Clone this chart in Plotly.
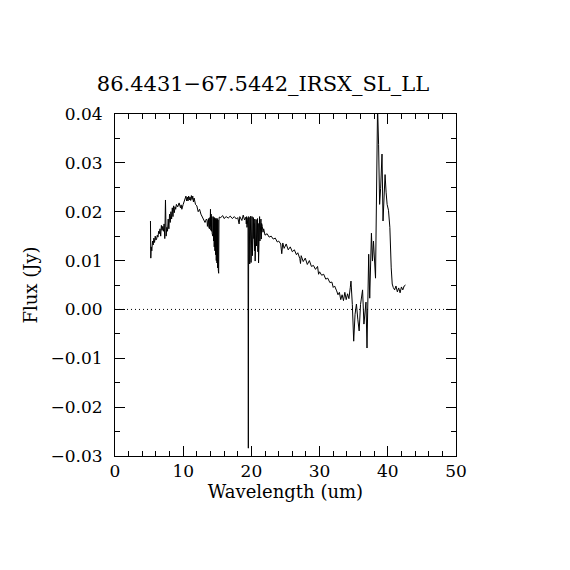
import plotly.graph_objects as go

# spectrum (wavelength in um, flux in Jy)
wavelength = [
    5.20, 5.25, 5.30, 5.40, 5.50, 5.60, 5.70, 5.80, 5.90, 6.00,
    6.10, 6.20, 6.30, 6.40, 6.50, 6.60, 6.70, 6.80, 6.90, 7.00,
    7.10, 7.20, 7.30, 7.40, 7.50, 7.60, 7.70, 7.80, 7.90, 8.00,
    8.10, 8.20, 8.30, 8.40, 8.50, 8.60, 8.70, 8.80, 8.90, 9.00,
    9.20, 9.40, 9.60, 9.70, 9.80, 10.00, 10.20, 10.40, 10.50, 10.60,
    10.70, 10.80, 10.90, 11.00, 11.10, 11.20, 11.30, 11.40, 11.50, 11.60,
    11.80, 12.00, 12.20, 12.40, 12.60, 12.80, 13.00, 13.20, 13.40,
    13.50, 13.55, 13.60, 13.65, 13.70, 13.75, 13.80, 13.85, 13.90, 13.95,
    14.00, 14.05, 14.10, 14.15, 14.20, 14.25, 14.30, 14.35, 14.40, 14.45,
    14.50, 14.55, 14.60, 14.65, 14.70, 14.75, 14.80, 14.85, 14.90, 14.95,
    15.00, 15.05, 15.10, 15.15, 15.20, 15.25, 15.30,
    15.50, 15.80, 16.00, 16.30, 16.60, 16.90, 17.20, 17.50, 17.80, 18.00,
    18.20, 18.30, 18.60, 18.80, 19.00,
    19.20, 19.25, 19.30, 19.35, 19.40, 19.45, 19.50, 19.55, 19.60, 19.65,
    19.70, 19.75, 19.80, 19.85, 19.90, 19.95, 20.00, 20.05, 20.10, 20.15,
    20.20, 20.25, 20.30, 20.35, 20.40, 20.45, 20.50, 20.55, 20.60, 20.65,
    20.70, 20.75, 20.80, 20.85, 20.90, 20.95, 21.00, 21.05, 21.10, 21.15,
    21.20, 21.25, 21.30, 21.35, 21.40, 21.45, 21.50, 21.55, 21.60, 21.70,
    21.80,
    22.00, 22.30, 22.60, 22.90, 23.20, 23.50,
    23.80, 24.00, 24.30, 24.45, 24.60, 24.80, 25.10, 25.40, 25.70, 26.00, 26.30,
    26.60, 26.80, 27.10, 27.20, 27.30, 27.60, 27.90, 28.20, 28.50, 28.80, 29.10,
    29.40, 29.70, 29.85, 30.00, 30.30, 30.60, 30.90, 31.20, 31.50, 31.80, 32.00,
    32.20, 32.50, 32.70, 32.90, 33.10, 33.30, 33.50, 33.70, 33.90, 34.10,
    34.30, 34.50, 34.60, 34.80, 35.00, 35.20, 35.40, 35.60, 35.80, 36.00,
    36.30, 36.50, 36.80, 36.95, 37.05, 37.20, 37.35, 37.60, 37.75, 37.90,
    38.20, 38.35, 38.50, 38.65, 38.80, 38.95, 39.05, 39.15, 39.30, 39.45,
    39.60, 39.75, 39.90, 40.10, 40.30, 40.50, 40.65, 40.80, 41.00, 41.20,
    41.40, 41.60, 41.80, 42.00, 42.20, 42.40, 42.60,
]
flux = [
    0.0181, 0.0105, 0.0128, 0.0120, 0.0140, 0.0132, 0.0146, 0.0137, 0.0150, 0.0142,
    0.0144, 0.0152, 0.0148, 0.0160, 0.0155, 0.0165, 0.0150, 0.0172, 0.0162, 0.0170,
    0.0160, 0.0175, 0.0145, 0.0224, 0.0150, 0.0168, 0.0160, 0.0185, 0.0165, 0.0195,
    0.0178, 0.0200, 0.0185, 0.0208, 0.0190, 0.0212, 0.0198, 0.0210, 0.0205, 0.0215,
    0.0210, 0.0218, 0.0208, 0.0214, 0.0205, 0.0215, 0.0222, 0.0232, 0.0222, 0.0230,
    0.0222, 0.0232, 0.0224, 0.0230, 0.0223, 0.0233, 0.0225, 0.0232, 0.0220, 0.0228,
    0.0215, 0.0212, 0.0200, 0.0205, 0.0195, 0.0190, 0.0185, 0.0178, 0.0185,
    0.0182, 0.0170, 0.0185, 0.0172, 0.0186, 0.0168, 0.0184, 0.0165, 0.0188, 0.0170,
    0.0205, 0.0162, 0.0195, 0.0160, 0.0190, 0.0155, 0.0188, 0.0150, 0.0190, 0.0140,
    0.0186, 0.0128, 0.0188, 0.0120, 0.0185, 0.0112, 0.0187, 0.0100, 0.0184, 0.0095,
    0.0186, 0.0085, 0.0183, 0.0080, 0.0074, 0.0185, 0.0189,
    0.0188, 0.0192, 0.0186, 0.0190, 0.0187, 0.0191, 0.0186, 0.0190, 0.0185, 0.0188,
    0.0175, 0.0190, 0.0182, 0.0193, 0.0183,
    0.0189, 0.0175, 0.0190, 0.0168, 0.0186, 0.0172, 0.0188, -0.0284, 0.0190, 0.0150,
    0.0188, 0.0093, 0.0185, 0.0130, 0.0191, 0.0096, 0.0182, 0.0140, 0.0190, 0.0110,
    0.0180, 0.0123, 0.0188, 0.0145, 0.0176, 0.0120, 0.0185, 0.0099, 0.0180, 0.0150,
    0.0184, 0.0130, 0.0178, 0.0155, 0.0186, 0.0118, 0.0176, 0.0095, 0.0182, 0.0150,
    0.0190, 0.0140, 0.0178, 0.0160, 0.0185, 0.0144, 0.0176, 0.0160, 0.0170, 0.0158,
    0.0165,
    0.0152, 0.0155, 0.0148, 0.0150, 0.0144, 0.0146,
    0.0138, 0.0140, 0.0134, 0.0114, 0.0136, 0.0125, 0.0134, 0.0122, 0.0128, 0.0118, 0.0122,
    0.0112, 0.0116, 0.0104, 0.0094, 0.0110, 0.0098, 0.0105, 0.0092, 0.0100, 0.0088, 0.0090,
    0.0082, 0.0088, 0.0072, 0.0077, 0.0070, 0.0072, 0.0062, 0.0064, 0.0055, 0.0056, 0.0045,
    0.0048, 0.0038, 0.0030, 0.0035, 0.0020, 0.0030, 0.0018, 0.0035, 0.0020, 0.0032,
    0.0022, 0.0045, 0.0058, 0.0010, -0.0065, -0.0010, 0.0011, -0.0020, -0.0044, 0.0010,
    0.0040, -0.0030, 0.0015, -0.0079, 0.0052, 0.0113, 0.0023, 0.0156, 0.0099, 0.0140,
    0.0064, 0.0228, 0.0415, 0.0338, 0.0215, 0.0248, 0.0310, 0.0318, 0.0181, 0.0235,
    0.0276, 0.0240, 0.0215, 0.0203, 0.0168, 0.0085, 0.0052, 0.0045, 0.0040, 0.0048,
    0.0036, 0.0044, 0.0034, 0.0046, 0.0040, 0.0048, 0.0050,
]
assert len(wavelength) == len(flux)

x_ticks = [0, 10, 20, 30, 40, 50]
y_ticks = [-0.03, -0.02, -0.01, 0.00, 0.01, 0.02, 0.03, 0.04]
y_labels = ["\u22120.03", "\u22120.02", "\u22120.01", "0.00", "0.01", "0.02", "0.03", "0.04"]

font = "DejaVu Serif"

fig = go.Figure()
fig.add_trace(go.Scatter(x=wavelength, y=flux, mode="lines",
                         line=dict(color="black", width=1),
                         showlegend=False))
fig.add_hline(y=0, line=dict(color="black", width=1, dash="1px,3px"))

axis_common = dict(showline=True, linecolor="black", linewidth=1, mirror="allticks",
                   ticks="inside", ticklen=10, tickcolor="black", tickwidth=1,
                   showgrid=False, zeroline=False,
                   tickfont=dict(family=font, size=17, color="black"))

fig.update_xaxes(range=[0, 50], tickvals=x_ticks,
                 minor=dict(dtick=2, ticks="inside", ticklen=5, tickcolor="black"),
                 title=dict(text="Wavelength (um)", font=dict(family=font, size=18, color="black"),
                            standoff=2),
                 **axis_common)
fig.update_yaxes(range=[-0.03, 0.04], tickvals=y_ticks, ticktext=y_labels,
                 ticklabelstandoff=8,
                 minor=dict(dtick=0.005, ticks="inside", ticklen=5, tickcolor="black"),
                 title=dict(text="Flux (Jy)", font=dict(family=font, size=18, color="black"),
                            standoff=8),
                 **axis_common)

fig.update_layout(
    width=570, height=570,
    margin=dict(l=107, r=122, t=106, b=122),
    paper_bgcolor="white", plot_bgcolor="white",
    title=dict(text="86.4431\u221267.5442_IRSX_SL_LL", x=255 / 570, xanchor="center",
               y=1 - 76 / 570, yanchor="middle", yref="container",
               font=dict(family=font, size=21, color="black")),
)

fig.write_html("out.html")
